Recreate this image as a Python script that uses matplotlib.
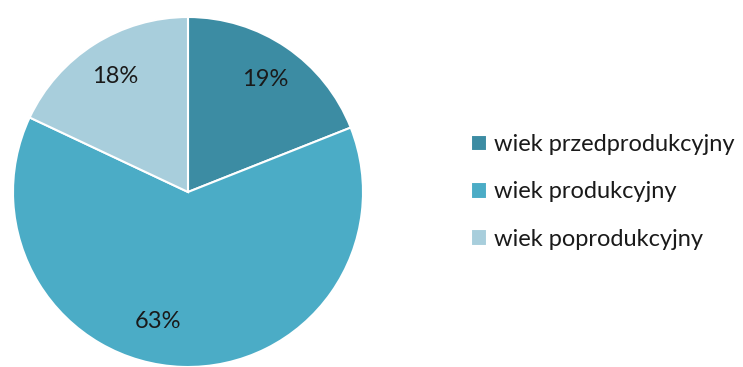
import matplotlib
matplotlib.use("Agg")
import matplotlib.pyplot as plt

categories = ["wiek przedprodukcyjny", "wiek produkcyjny", "wiek poprodukcyjny"]
values = [19, 63, 18]
colors = ["#3C8CA3", "#4BACC6", "#A8CEDC"]

plt.rcParams['font.family'] = ['Lato', 'DejaVu Sans']

fig = plt.figure(figsize=(7.43, 3.67), dpi=100)
ax = fig.add_axes([13/743, 0/367, 350/743, 350/367])
wedges, texts, autotexts = ax.pie(
    values, colors=colors, startangle=90, counterclock=False,
    autopct=lambda p: f"{p:.0f}%", pctdistance=0.78,
    wedgeprops=dict(edgecolor="white", linewidth=1.5),
    textprops=dict(fontsize=17, color="#1a1a1a"))
autotexts[1].set_position((-0.17, -0.74))
ax.set_xlim(-1, 1)
ax.set_ylim(-1, 1)
ax.set_aspect("equal")

fig.legend(wedges, categories, loc="center left",
           bbox_to_anchor=(454/743, 1 - 192/367), frameon=False,
           fontsize=17, handlelength=0.7, handleheight=0.7,
           handletextpad=0.3, labelspacing=1.12, labelcolor="#1a1a1a",
           borderpad=0.2)

fig.savefig("out.png", dpi=100)
